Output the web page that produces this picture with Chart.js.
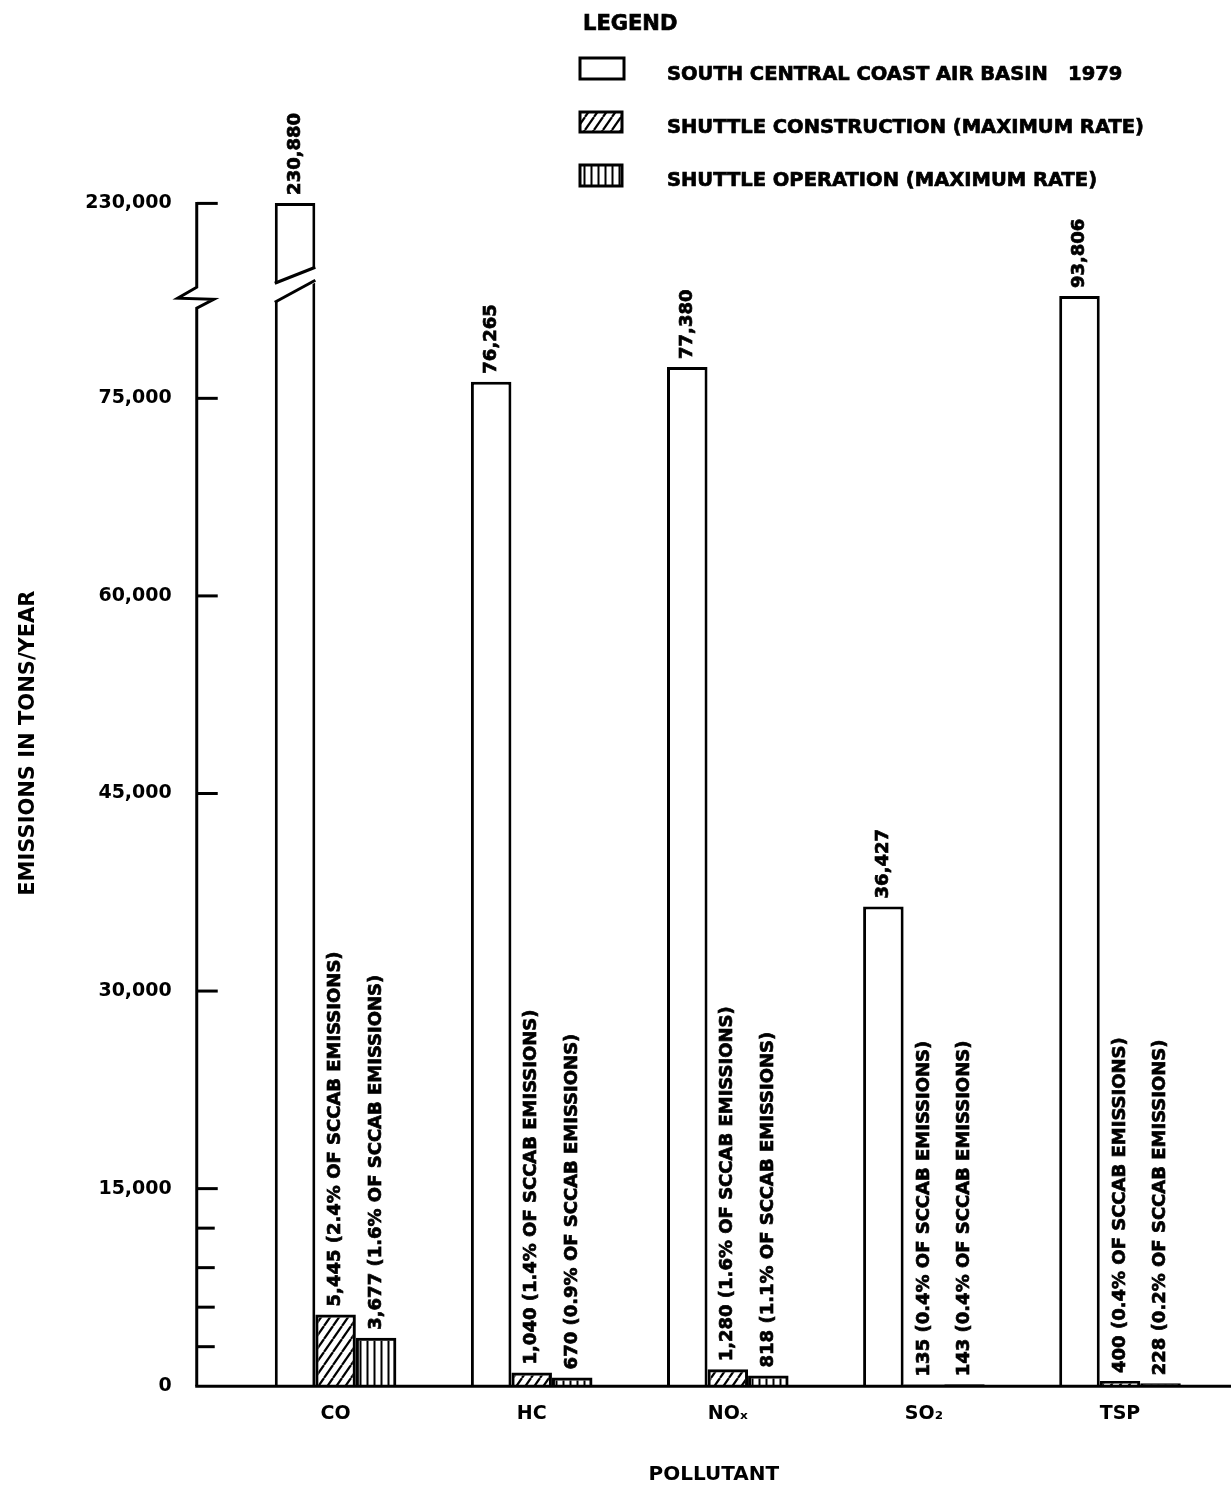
<!DOCTYPE html>
<html>
<head>
<meta charset="utf-8">
<script src="https://cdn.jsdelivr.net/npm/chart.js@4.4.1/dist/chart.umd.min.js"></script>
<style>
  html,body{margin:0;padding:0;background:#fff}
  canvas{display:block}
</style>
</head>
<body>
<canvas id="c" width="1231" height="1489"></canvas>
<script>
// ---- data (tons/year) ----
const POLLUTANTS = ['CO','HC','NOₓ','SO₂','TSP'];
const SCCAB_1979 = [230880, 76265, 77380, 36427, 93806];
const CONSTRUCTION = [5445, 1040, 1280, 135, 400];
const CONSTRUCTION_PCT = [2.4, 1.4, 1.6, 0.4, 0.4];
const OPERATION = [3677, 670, 818, 143, 228];
const OPERATION_PCT = [1.6, 0.9, 1.1, 0.4, 0.2];
const SERIES_NAMES = [
  'SOUTH CENTRAL COAST AIR BASIN   1979',
  'SHUTTLE CONSTRUCTION (MAXIMUM RATE)',
  'SHUTTLE OPERATION (MAXIMUM RATE)'
];
const Y_TICKS = [0, 3000, 6000, 9000, 12000, 15000, 30000, 45000, 60000, 75000, 230000];
const Y_LABELLED = [0, 15000, 30000, 45000, 60000, 75000, 230000];

// broken value axis: raw tons -> axis units (piecewise linear, squeezed above the break)
const BREAK_KNOTS = [[0,0],[80000,80000],[100000,84000],[230000,89800]];
const AXIS_BREAK = 93000;   // where the zigzag sits on the axis
const BAR_BREAK = 100000;   // bars taller than this get cut

function toAxis(v){
  for(let i=1;i<BREAK_KNOTS.length;i++){
    const [r0,a0]=BREAK_KNOTS[i-1], [r1,a1]=BREAK_KNOTS[i];
    if(v<=r1 || i===BREAK_KNOTS.length-1) return a0+(v-r0)*(a1-a0)/(r1-r0);
  }
}
function fromAxis(a){
  for(let i=1;i<BREAK_KNOTS.length;i++){
    const [r0,a0]=BREAK_KNOTS[i-1], [r1,a1]=BREAK_KNOTS[i];
    if(a<=a1 || i===BREAK_KNOTS.length-1) return r0+(a-a0)*(r1-r0)/(a1-a0);
  }
}

class BrokenLinearScale extends Chart.LinearScale{
  getPixelForValue(v){ return v==null ? NaN : super.getPixelForValue(toAxis(v)); }
  getValueForPixel(p){ return fromAxis(super.getValueForPixel(p)); }
}
BrokenLinearScale.id = 'brokenLinear';
BrokenLinearScale.defaults = Chart.LinearScale.defaults;
Chart.register(BrokenLinearScale);

Chart.defaults.font.family = '"DejaVu Sans", sans-serif';
Chart.defaults.color = '#000';

const canvas = document.getElementById('c');
const ctx0 = canvas.getContext('2d');

// hatch fills
function makePattern(w,h,draw){
  const t=document.createElement('canvas'); t.width=w; t.height=h;
  const g=t.getContext('2d'); g.strokeStyle='#000'; draw(g,w,h);
  return ctx0.createPattern(t,'repeat');
}
const diagHatch = makePattern(9,13,(g,w,h)=>{
  g.lineWidth=2.2;
  [-w,0,w].forEach(o=>{ g.beginPath(); g.moveTo(o,h); g.lineTo(o+w,0); g.stroke(); });
});
const vertHatch = makePattern(7,4,(g,w,h)=>{
  g.lineWidth=2; g.beginPath(); g.moveTo(3.5,0); g.lineTo(3.5,h); g.stroke();
});

const fmt = v => v.toLocaleString('en-US');

// text with a hairline stroke so it reads as heavy as the scanned lettering
function boldText(ctx,txt,x,y){
  ctx.fillText(txt,x,y);
  ctx.lineWidth=0.7; ctx.strokeText(txt,x,y);
}

// axes, breaks, tick marks, bar labels, legend
const drawExtras = {
  id:'drawExtras',
  afterDatasetsDraw(chart){
    const ctx=chart.ctx, y=chart.scales.y, ca=chart.chartArea;
    const ax=ca.left, base=y.getPixelForValue(0), ytop=y.getPixelForValue(230000);
    const brk=y.getPixelForValue(AXIS_BREAK);
    ctx.save();
    ctx.strokeStyle='#000'; ctx.fillStyle='#000'; ctx.lineWidth=3; ctx.lineJoin='miter';

    // cut on bars taller than the break
    const m0=chart.getDatasetMeta(0);
    m0.data.forEach((el,i)=>{
      if(SCCAB_1979[i]<=BAR_BREAK) return;
      const l=el.x-el.width/2, r=el.x+el.width/2, c=brk-13;
      ctx.fillStyle='#fff';
      ctx.beginPath();
      ctx.moveTo(l-3,c-1); ctx.lineTo(r+3,c-19); ctx.lineTo(r+3,c-4); ctx.lineTo(l-3,c+18);
      ctx.closePath(); ctx.fill();
      ctx.beginPath(); ctx.moveTo(l,c-2); ctx.lineTo(r,c-18); ctx.stroke();
      ctx.beginPath(); ctx.moveTo(l,c+17); ctx.lineTo(r,c-5); ctx.stroke();
      ctx.fillStyle='#000';
    });

    // y axis with zigzag break
    ctx.beginPath();
    ctx.moveTo(ax,ytop-1.5); ctx.lineTo(ax,brk-11); ctx.lineTo(ax-19,brk);
    ctx.lineTo(ax+17,brk+1); ctx.lineTo(ax,brk+10); ctx.lineTo(ax,base);
    ctx.stroke();
    // tick marks (pointing into the plot)
    Y_TICKS.forEach(v=>{
      if(v===0) return;
      const py=y.getPixelForValue(v);
      ctx.beginPath(); ctx.moveTo(ax,py); ctx.lineTo(ax+(Y_LABELLED.includes(v)?21:18),py); ctx.stroke();
    });
    // baseline
    ctx.beginPath(); ctx.moveTo(ax-1.5,base); ctx.lineTo(chart.width,base); ctx.stroke();

    // rotated value labels above bars
    ctx.font='bold 18px "DejaVu Sans"';
    ctx.textAlign='left'; ctx.textBaseline='middle';
    chart.data.datasets.forEach((ds,d)=>{
      chart.getDatasetMeta(d).data.forEach((el,i)=>{
        let txt;
        if(d===0) txt=fmt(SCCAB_1979[i]);
        else if(d===1) txt=fmt(CONSTRUCTION[i])+' ('+CONSTRUCTION_PCT[i].toFixed(1)+'% OF SCCAB EMISSIONS)';
        else txt=fmt(OPERATION[i])+' ('+OPERATION_PCT[i].toFixed(1)+'% OF SCCAB EMISSIONS)';
        ctx.save();
        ctx.translate(el.x, el.y-8);
        ctx.rotate(-Math.PI/2);
        boldText(ctx,txt,0,0);
        ctx.restore();
      });
    });

    // legend
    ctx.font='bold 21px "DejaVu Sans"';
    boldText(ctx,'LEGEND',583,25);
    const boxes=[[580,58,44,21],[580,112,42,20],[580,165,42,21]];
    const textY=[75,128,181];
    chart.data.datasets.forEach((ds,d)=>{
      const [bx,by,bw,bh]=boxes[d];
      ctx.lineWidth=3;
      ctx.fillStyle=ds.backgroundColor; ctx.fillRect(bx,by,bw,bh);
      ctx.strokeRect(bx,by,bw,bh);
      ctx.fillStyle='#000';
      ctx.font='bold 19.5px "DejaVu Sans"';
      boldText(ctx,ds.label,667,textY[d]);
    });
    ctx.restore();
  }
};

const toPoints = arr => arr.map((v,i)=>({x:i,y:v}));

new Chart(canvas,{
  type:'bar',
  data:{
    datasets:[
      {label:SERIES_NAMES[0], data:toPoints(SCCAB_1979), backgroundColor:'#fff', borderColor:'#000', borderWidth:3},
      {label:SERIES_NAMES[1], data:toPoints(CONSTRUCTION), backgroundColor:diagHatch, borderColor:'#000', borderWidth:3},
      {label:SERIES_NAMES[2], data:toPoints(OPERATION), backgroundColor:vertHatch, borderColor:'#000', borderWidth:3}
    ]
  },
  options:{
    responsive:false, animation:false,
    layout:{padding:{top:100,right:0,bottom:2,left:0}},
    datasets:{bar:{categoryPercentage:0.62, barPercentage:1}},
    plugins:{legend:{display:false}, tooltip:{enabled:false}},
    scales:{
      x:{
        type:'linear', offset:false, min:-0.708, max:4.566,
        grid:{display:false, drawTicks:false, offset:false}, border:{display:false},
        afterBuildTicks:s=>{ s.ticks=POLLUTANTS.map((_,i)=>({value:i})); },
        ticks:{autoSkip:false, maxRotation:0, padding:16, color:'#000', font:{size:19, weight:'bold'}, callback:v=>POLLUTANTS[v]},
        title:{display:true, text:'POLLUTANT', color:'#000', font:{size:20, weight:'bold'}, padding:{top:22, bottom:0}}
      },
      y:{
        type:'brokenLinear', min:0, max:97650, bounds:'data',
        grid:{display:false, drawTicks:false}, border:{display:false},
        afterBuildTicks:s=>{ s.ticks=Y_TICKS.map(v=>({value:v})); },
        ticks:{autoSkip:false, padding:25, color:'#000', font:{size:19, weight:'bold'},
               callback:v=>Y_LABELLED.includes(v)?fmt(v):''},
        title:{display:true, text:'EMISSIONS IN TONS/YEAR', color:'#000', font:{size:21, weight:'bold'}, padding:{top:16, bottom:19}}
      }
    }
  },
  plugins:[drawExtras]
});
</script>
</body>
</html>
